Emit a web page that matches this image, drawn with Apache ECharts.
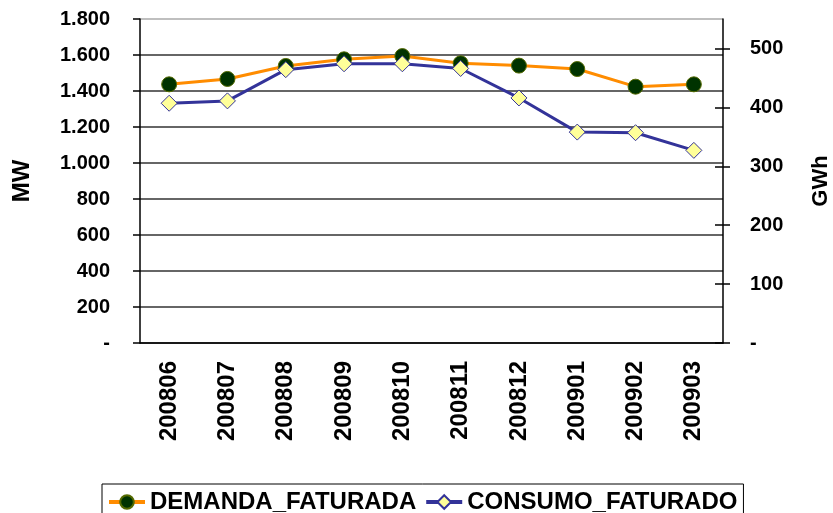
<!DOCTYPE html>
<html>
<head>
<meta charset="utf-8">
<script src="https://cdn.jsdelivr.net/npm/echarts@6/dist/echarts.min.js"></script>
<style>
    html, body { margin: 0; padding: 0; background: #fff; }
    #chart { width: 833px; height: 513px; }
</style>
</head>
<body>
<div id="chart"></div>
<script>
var meses = ['200806', '200807', '200808', '200809', '200810', '200811', '200812', '200901', '200902', '200903'];
// demanda em MW (eixo esquerdo)
var demanda = [1437, 1467, 1539, 1576, 1594, 1554, 1541, 1522, 1424, 1437];
// consumo em GWh (eixo direito)
var consumo = [407, 411, 464, 474, 474, 466, 416, 358, 357, 327];
var ticksMW = [0, 200, 400, 600, 800, 1000, 1200, 1400, 1600, 1800];
var ticksGWh = [0, 100, 200, 300, 400, 500];

var fonte = '"Liberation Sans", Arial, sans-serif';

function milhar(v) {
    if (v === 0) return '-';
    return String(v).replace(/\B(?=(\d{3})+(?!\d))/g, '.');
}

function grafico() {
    var myChart = echarts.init(document.getElementById('chart'));
    var option = {
        animation: false,
        textStyle: {fontFamily: fonte},
        legend: {
            left: 102,
            top: 484,
            padding: [5, 6, 10, 5],
            itemGap: 8,
            itemWidth: 36,
            itemHeight: 17,
            borderColor: '#000',
            borderWidth: 1,
            lineStyle: {width: 4},
            textStyle: {
                color: '#000',
                fontSize: 24,
                fontWeight: 'bold',
                fontFamily: fonte,
                lineHeight: 26
            },
            data: ['DEMANDA_FATURADA', 'CONSUMO_FATURADO']
        },
        grid: {
            left: 140,
            right: 110,
            top: 19,
            bottom: 170,
            outerBoundsMode: 'none'
        },
        xAxis: {
            type: 'category',
            data: meses,
            axisLine: {lineStyle: {color: '#000', width: 1.5}},
            axisTick: {length: 7, lineStyle: {color: '#000', width: 1.5}},
            axisLabel: {
                rotate: 90,
                margin: 18,
                color: '#000',
                fontSize: 24,
                fontWeight: 'bold',
                fontFamily: fonte
            }
        },
        yAxis: [
            {
                type: 'value',
                position: 'left',
                min: 0,
                max: 1800,
                interval: 200,
                name: 'MW',
                nameLocation: 'middle',
                nameRotate: 90,
                nameGap: 106,
                nameTextStyle: {color: '#000', fontSize: 24, fontWeight: 'bold', fontFamily: fonte},
                axisLine: {show: true, lineStyle: {color: '#000', width: 1.5}},
                axisTick: {show: true, length: 7, lineStyle: {color: '#000', width: 1.5},
                    customValues: ticksMW},
                axisLabel: {
                    margin: 30,
                    color: '#000',
                    fontSize: 20,
                    fontWeight: 'bold',
                    fontFamily: fonte,
                    customValues: ticksMW,
                    formatter: milhar
                },
                splitLine: {
                    show: true,
                    lineStyle: {
                        color: ['#333', '#333', '#333', '#333', '#333', '#333', '#333', '#333', '#333', '#aaa'],
                        width: 1.5
                    }
                }
            },
            {
                type: 'value',
                position: 'right',
                min: 0,
                max: 550,
                name: 'GWh',
                nameLocation: 'middle',
                nameRotate: 90,
                nameGap: 87,
                nameTextStyle: {color: '#000', fontSize: 22, fontWeight: 'bold', fontFamily: fonte},
                axisLine: {show: true, lineStyle: {color: '#000', width: 1.5}},
                axisTick: {show: true, length: 7, lineStyle: {color: '#000', width: 1.5},
                    customValues: ticksGWh},
                axisLabel: {
                    margin: 27,
                    color: '#000',
                    fontSize: 20,
                    fontWeight: 'bold',
                    fontFamily: fonte,
                    customValues: ticksGWh,
                    formatter: milhar
                },
                splitLine: {show: false}
            },
            {
                // só para os traços internos do eixo direito
                type: 'value',
                position: 'right',
                min: 0,
                max: 550,
                axisLine: {show: false},
                axisTick: {show: true, inside: true, length: 8, lineStyle: {color: '#000', width: 1.5},
                    customValues: ticksGWh},
                axisLabel: {show: false},
                splitLine: {show: false}
            }
        ],
        series: [
            {
                name: 'DEMANDA_FATURADA',
                type: 'line',
                yAxisIndex: 0,
                data: demanda,
                symbol: 'circle',
                symbolSize: 15,
                lineStyle: {color: '#ff8c00', width: 3},
                itemStyle: {color: '#003300', borderColor: '#556b00', borderWidth: 1}
            },
            {
                name: 'CONSUMO_FATURADO',
                type: 'line',
                yAxisIndex: 1,
                data: consumo,
                symbol: 'diamond',
                symbolSize: 16,
                lineStyle: {color: '#333399', width: 3},
                itemStyle: {color: '#ffff99', borderColor: '#333399', borderWidth: 1}
            }
        ]
    };

    myChart.setOption(option);
}

grafico();
</script>
</body>
</html>
